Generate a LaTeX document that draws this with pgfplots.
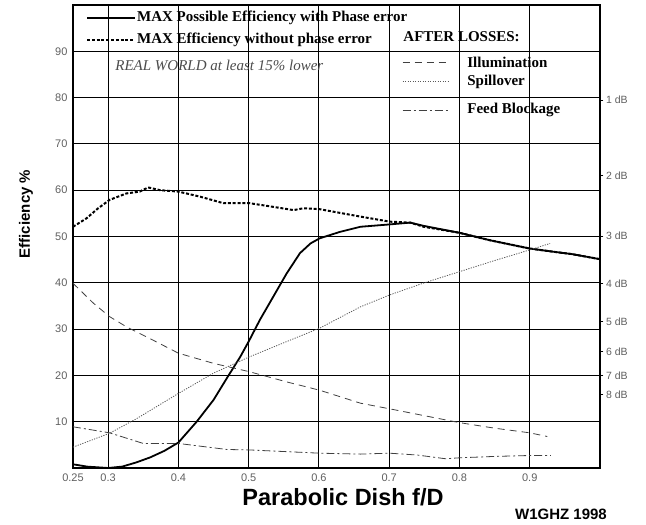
\documentclass[border=0pt]{standalone}
\usepackage{fontspec}
\setmainfont{Liberation Serif}
\setsansfont{Liberation Sans}
\usepackage{pgfplots}
\pgfplotsset{compat=1.18}
\definecolor{lbl}{RGB}{95,95,95}
\begin{document}
\begin{tikzpicture}[x=1pt,y=1pt]
\useasboundingbox (0,0) rectangle (646,525);
\begin{axis}[
  at={(73pt,57pt)}, anchor=south west,
  scale only axis, width=527pt, height=463pt,
  xmin=0.25, xmax=1.0, ymin=0, ymax=100,
  xtick={0.25,0.3,0.5,0.6,0.7,0.8,0.9},
  xticklabels={0.25,0.3,0.5,0.6,0.7,0.8,0.9},
  ytick={10,20,30,40,50,60,70,90},
  extra x ticks={0.4}, extra x tick labels={0.4},
  extra y ticks={80}, extra y tick labels={80},
  extra tick style={grid style={black!35, line width=1.6pt}},
  grid=major,
  major grid style={black, line width=0.9pt},
  major tick length=0pt,
  axis line style={line width=1.6pt},
  tick label style={font=\sffamily\fontsize{11}{11}\selectfont, text=lbl},
  xticklabel style={yshift=-2pt},
  yticklabel style={xshift=-2pt},
  /pgf/number format/assume math mode=true,
]
% MAX efficiency without phase error (thick dashed)
\addplot[black, line width=2pt, dash pattern=on 3pt off 1.8pt] coordinates {
(0.25,52.1)(0.269,53.9)(0.285,56.0)(0.302,57.9)(0.326,59.3)(0.345,59.7)(0.357,60.6)
(0.374,60.0)(0.40,59.7)(0.431,58.6)(0.464,57.2)(0.501,57.2)(0.535,56.4)(0.564,55.7)
(0.578,56.1)(0.601,55.9)(0.630,55.1)(0.659,54.3)(0.701,53.2)(0.730,53.0)(0.749,52.1)
(0.80,50.8)(0.843,49.2)(0.90,47.4)(0.934,46.7)(0.96,46.2)(1.0,45.1)};
% MAX possible efficiency with phase error (solid)
\addplot[black, line width=1.8pt] coordinates {
(0.25,0.8)(0.27,0.3)(0.30,0.0)(0.32,0.3)(0.34,1.2)(0.36,2.3)(0.38,3.7)(0.40,5.5)
(0.426,10.0)(0.45,14.7)(0.471,19.9)(0.488,24.0)(0.501,27.6)(0.516,32.0)(0.535,37.0)
(0.554,42.0)(0.573,46.4)(0.588,48.5)(0.601,49.6)(0.630,51.0)(0.659,52.1)(0.70,52.6)
(0.730,53.0)(0.749,52.3)(0.80,50.8)(0.843,49.2)(0.90,47.4)(0.934,46.7)(0.96,46.2)(1.0,45.1)};
% Illumination (dashed)
\addplot[black!75, line width=0.8pt, dash pattern=on 7pt off 5pt] coordinates {
(0.25,39.9)(0.279,35.6)(0.302,32.7)(0.326,30.5)(0.364,27.6)(0.40,24.8)(0.45,22.6)
(0.501,20.8)(0.554,18.6)(0.601,16.8)(0.659,14.0)(0.70,12.8)(0.75,11.3)(0.80,9.8)
(0.85,8.6)(0.90,7.6)(0.925,6.8)};
% Spillover (dotted)
\addplot[black!65, line width=0.8pt, dash pattern=on 1.2pt off 1.3pt] coordinates {
(0.25,4.5)(0.302,7.5)(0.341,10.7)(0.40,16.1)(0.45,20.5)(0.501,24.0)(0.554,27.3)
(0.601,30.2)(0.659,34.8)(0.701,37.4)(0.75,40.0)(0.80,42.4)(0.85,44.8)(0.90,47.1)(0.929,48.5)};
% Feed blockage (dash-dot)
\addplot[black!75, line width=0.8pt, dash pattern=on 8pt off 3pt on 2pt off 3pt] coordinates {
(0.25,8.9)(0.302,7.6)(0.35,5.3)(0.40,5.3)(0.469,4.0)(0.501,3.9)(0.601,3.2)(0.659,3.0)
(0.70,3.2)(0.74,2.8)(0.78,2.0)(0.80,2.2)(0.85,2.5)(0.90,2.7)(0.93,2.7)};
% legend
\draw[black, line width=1.8pt] (axis cs:0.27,97.2) -- (axis cs:0.338,97.2);
\node[anchor=west, inner sep=0pt, font=\bfseries\fontsize{15}{15}\selectfont] at (axis cs:0.341,97.2) {MAX Possible Efficiency with Phase error};
\draw[black, line width=2pt, dash pattern=on 3pt off 1.8pt] (axis cs:0.27,92.4) -- (axis cs:0.338,92.4);
\node[anchor=west, inner sep=0pt, font=\bfseries\fontsize{15}{15}\selectfont] at (axis cs:0.341,92.4) {MAX Efficiency without phase error};
\node[anchor=west, inner sep=0pt, text=black!70, font=\itshape\fontsize{15}{15}\selectfont] at (axis cs:0.310,87.0) {REAL WORLD at least 15\% lower};
\node[anchor=west, inner sep=0pt, font=\bfseries\fontsize{15}{15}\selectfont] at (axis cs:0.720,93.1) {AFTER LOSSES:};
\draw[black!75, line width=0.8pt, dash pattern=on 7pt off 5pt] (axis cs:0.719,87.5) -- (axis cs:0.784,87.5);
\node[anchor=west, inner sep=0pt, font=\bfseries\fontsize{15}{15}\selectfont] at (axis cs:0.811,87.5) {Illumination};
\draw[black!65, line width=0.8pt, dash pattern=on 1.2pt off 1.3pt] (axis cs:0.719,83.4) -- (axis cs:0.784,83.4);
\node[anchor=west, inner sep=0pt, font=\bfseries\fontsize{15}{15}\selectfont] at (axis cs:0.811,83.4) {Spillover};
\draw[black!75, line width=0.8pt, dash pattern=on 8pt off 3pt on 2pt off 3pt] (axis cs:0.719,77.3) -- (axis cs:0.784,77.3);
\node[anchor=west, inner sep=0pt, font=\bfseries\fontsize{15}{15}\selectfont] at (axis cs:0.811,77.3) {Feed Blockage};
\end{axis}
\begin{axis}[
  at={(73pt,57pt)}, anchor=south west,
  scale only axis, width=527pt, height=463pt,
  xmin=0.25, xmax=1.0, ymin=0, ymax=100,
  axis x line=none, axis y line*=right,
  axis line style={line width=1.6pt},
  ytick={79.43,63.10,50.12,39.81,31.62,25.12,19.95,15.85},
  yticklabels={1 dB,2 dB,3 dB,4 dB,5 dB,6 dB,7 dB,8 dB},
  tick align=outside, major tick length=3.5pt,
  tick style={black, line width=0.7pt},
  yticklabel style={font=\sffamily\fontsize{10.5}{10.5}\selectfont, text=lbl, xshift=-1pt},
]
\addplot[draw=none] coordinates {(0.5,50)};
\end{axis}
\node[rotate=90, font=\sffamily\bfseries\fontsize{15}{15}\selectfont] at (26,311) {Efficiency \%};
\node[font=\sffamily\bfseries\fontsize{23.5}{23.5}\selectfont] at (343,28) {Parabolic Dish f/D};
\node[font=\sffamily\bfseries\fontsize{15}{15}\selectfont] at (561,11) {W1GHZ 1998};
\end{tikzpicture}
\end{document}
